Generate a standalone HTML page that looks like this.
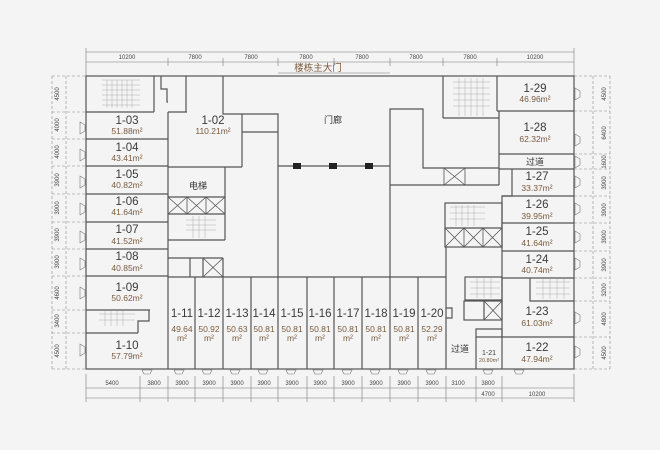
<!DOCTYPE html>
<html><head><meta charset="utf-8"><style>
html,body{margin:0;padding:0;background:#f4f4f4;}
svg{display:block;}
text{font-family:"Liberation Sans","Noto Sans CJK SC",sans-serif;}
.w{stroke:#555;stroke-width:1.2;fill:none;}
.t{stroke:#777;stroke-width:0.6;fill:none;}
.d{stroke:#888;stroke-width:0.6;fill:none;stroke-dasharray:3,2;}
.s{stroke:#aaa;stroke-width:0.5;fill:none;}
.id{fill:#3a3a3a;font-size:11.5px;text-anchor:middle;}
.ar{fill:#7a5a3c;font-size:8.5px;text-anchor:middle;}
.dm{fill:#444;font-size:6px;text-anchor:middle;}
.cn{fill:#333;font-size:9px;text-anchor:middle;}
</style></head><body>
<svg width="660" height="450" viewBox="0 0 660 450" xmlns="http://www.w3.org/2000/svg">
<rect width="660" height="450" fill="#f4f4f4"/>
<!-- top dims -->
<g class="t">
<line x1="86" y1="52" x2="574" y2="52"/><line x1="86" y1="62" x2="574" y2="62"/>
<line x1="86" y1="48" x2="86" y2="76"/><line x1="168" y1="58" x2="168" y2="66"/><line x1="223" y1="58" x2="223" y2="66"/>
<line x1="278" y1="58" x2="278" y2="66"/><line x1="334" y1="58" x2="334" y2="66"/><line x1="390" y1="58" x2="390" y2="66"/>
<line x1="443" y1="58" x2="443" y2="66"/><line x1="497" y1="58" x2="497" y2="66"/><line x1="574" y1="48" x2="574" y2="76"/>
</g>
<g class="dm"><text x="127" y="59">10200</text><text x="195" y="59">7800</text><text x="251" y="59">7800</text><text x="306" y="59">7800</text><text x="362" y="59">7800</text><text x="416" y="59">7800</text><text x="470" y="59">7800</text><text x="535" y="59">10200</text></g>
<text x="318" y="71" style="fill:#7a5a3c;font-size:9.5px;text-anchor:middle">楼栋主大门</text>
<line x1="278" y1="73" x2="390" y2="73" class="t"/>
<!-- left dims -->
<g class="d">
<line x1="52" y1="76" x2="52" y2="369"/><line x1="66" y1="76" x2="66" y2="369"/>
<line x1="52" y1="76" x2="86" y2="76"/><line x1="52" y1="112" x2="86" y2="112"/><line x1="52" y1="139" x2="86" y2="139"/><line x1="52" y1="166" x2="86" y2="166"/><line x1="52" y1="194" x2="86" y2="194"/><line x1="52" y1="222" x2="86" y2="222"/><line x1="52" y1="249" x2="86" y2="249"/><line x1="52" y1="276" x2="86" y2="276"/><line x1="52" y1="310" x2="86" y2="310"/><line x1="52" y1="333" x2="86" y2="333"/><line x1="52" y1="369" x2="86" y2="369"/>
</g>
<g class="dm">
<text transform="translate(59,94) rotate(-90)">4500</text><text transform="translate(59,125) rotate(-90)">4000</text><text transform="translate(59,152) rotate(-90)">4000</text><text transform="translate(59,180) rotate(-90)">3900</text><text transform="translate(59,208) rotate(-90)">3900</text><text transform="translate(59,235) rotate(-90)">3900</text><text transform="translate(59,262) rotate(-90)">3900</text><text transform="translate(59,293) rotate(-90)">4600</text><text transform="translate(59,321) rotate(-90)">3400</text><text transform="translate(59,351) rotate(-90)">4500</text>
</g>
<!-- right dims -->
<g class="d">
<line x1="593" y1="76" x2="593" y2="369"/><line x1="610" y1="76" x2="610" y2="369"/>
<line x1="574" y1="111" x2="610" y2="111"/><line x1="574" y1="154" x2="610" y2="154"/><line x1="574" y1="169" x2="610" y2="169"/><line x1="574" y1="196" x2="610" y2="196"/><line x1="574" y1="223" x2="610" y2="223"/><line x1="574" y1="251" x2="610" y2="251"/><line x1="574" y1="278" x2="610" y2="278"/><line x1="574" y1="301" x2="610" y2="301"/><line x1="574" y1="337" x2="610" y2="337"/><line x1="574" y1="369" x2="610" y2="369"/><line x1="574" y1="76" x2="610" y2="76"/>
</g>
<g class="dm">
<text transform="translate(606,94) rotate(-90)">4500</text><text transform="translate(606,133) rotate(-90)">6400</text><text transform="translate(606,162) rotate(-90)">1600</text><text transform="translate(606,183) rotate(-90)">3900</text><text transform="translate(606,210) rotate(-90)">3900</text><text transform="translate(606,237) rotate(-90)">3900</text><text transform="translate(606,265) rotate(-90)">3900</text><text transform="translate(606,290) rotate(-90)">3200</text><text transform="translate(606,319) rotate(-90)">4800</text><text transform="translate(606,353) rotate(-90)">4500</text>
</g>
<!-- bottom dims -->
<g class="t">
<line x1="86" y1="388" x2="574" y2="388"/><line x1="86" y1="398" x2="574" y2="398"/>
<line x1="86" y1="374" x2="86" y2="402"/><line x1="574" y1="374" x2="574" y2="402"/>
<line x1="140" y1="376" x2="140" y2="402"/><line x1="168" y1="376" x2="168" y2="402"/><line x1="195" y1="376" x2="195" y2="402"/><line x1="223" y1="376" x2="223" y2="402"/><line x1="251" y1="376" x2="251" y2="402"/><line x1="278" y1="376" x2="278" y2="402"/><line x1="307" y1="376" x2="307" y2="402"/><line x1="334" y1="376" x2="334" y2="402"/><line x1="362" y1="376" x2="362" y2="402"/><line x1="390" y1="376" x2="390" y2="402"/><line x1="418" y1="376" x2="418" y2="402"/><line x1="446" y1="376" x2="446" y2="402"/><line x1="476" y1="376" x2="476" y2="402"/><line x1="502" y1="376" x2="502" y2="402"/>
</g>
<g class="dm">
<text x="112" y="385">5400</text><text x="154" y="385">3800</text><text x="182" y="385">3900</text><text x="209" y="385">3900</text><text x="237" y="385">3900</text><text x="264" y="385">3900</text><text x="292" y="385">3900</text><text x="320" y="385">3900</text><text x="348" y="385">3900</text><text x="376" y="385">3900</text><text x="404" y="385">3900</text><text x="432" y="385">3900</text><text x="458" y="385">3100</text><text x="488" y="385">3800</text>
<text x="488" y="396">4700</text><text x="537" y="396">10200</text>
</g>
<!-- outer walls -->
<rect x="86" y="76" width="488" height="293" class="w"/>
<g class="w">
<!-- left rooms -->
<line x1="86" y1="112" x2="154" y2="112"/><line x1="154" y1="76" x2="154" y2="112"/>
<line x1="86" y1="139" x2="168" y2="139"/><line x1="86" y1="166" x2="168" y2="166"/><line x1="86" y1="194" x2="168" y2="194"/><line x1="86" y1="222" x2="168" y2="222"/><line x1="86" y1="249" x2="168" y2="249"/><line x1="86" y1="276" x2="168" y2="276"/>
<line x1="86" y1="310" x2="150" y2="310"/><polyline points="149,310 149,321 138,321 138,333"/><line x1="86" y1="333" x2="138" y2="333"/>
<line x1="168" y1="112" x2="168" y2="369"/>
<polyline points="161,76 161,89 167,89 167,102 168,102"/><line x1="168" y1="112" x2="187" y2="112"/><line x1="186" y1="76" x2="186" y2="112"/>
<!-- 1-02 -->
<line x1="168" y1="167" x2="242" y2="167"/><line x1="242" y1="114" x2="242" y2="167"/>
<polyline points="223,76 223,114 278,114 278,277"/><line x1="242" y1="132" x2="278" y2="132"/>
<line x1="225" y1="167" x2="225" y2="240"/><line x1="168" y1="197" x2="225" y2="197"/><line x1="168" y1="214" x2="225" y2="214"/><line x1="168" y1="240" x2="225" y2="240"/>
<line x1="168" y1="258" x2="223" y2="258"/><line x1="223" y1="258" x2="223" y2="277"/><line x1="190" y1="258" x2="190" y2="277"/><line x1="203" y1="258" x2="203" y2="277"/>
<!-- corridor -->
<line x1="278" y1="166" x2="390" y2="166"/>
<polyline points="390,277 390,109 423,109 423,168 499,168"/><line x1="390" y1="185" x2="499" y2="185"/>
<line x1="499" y1="111" x2="499" y2="185"/><line x1="443" y1="76" x2="443" y2="118"/><line x1="443" y1="118" x2="499" y2="118"/>
<line x1="497" y1="76" x2="497" y2="111"/><line x1="497" y1="111" x2="574" y2="111"/>
<line x1="499" y1="154" x2="574" y2="154"/><line x1="499" y1="169" x2="574" y2="169"/>
<polyline points="512,169 512,196 502,196 502,337"/><line x1="502" y1="196" x2="574" y2="196"/><line x1="502" y1="223" x2="574" y2="223"/><line x1="502" y1="251" x2="574" y2="251"/><line x1="502" y1="278" x2="574" y2="278"/>
<polyline points="530,278 530,301 574,301"/><line x1="476" y1="337" x2="574" y2="337"/>
<rect x="445" y="203" width="57" height="44"/><line x1="445" y1="228" x2="502" y2="228"/><line x1="446" y1="247" x2="446" y2="369"/>
<rect x="465" y="277" width="37" height="23"/><rect x="464" y="301" width="38" height="19"/><line x1="484" y1="301" x2="484" y2="320"/>
<polyline points="476,369 476,329 502,329 502,369"/>
<!-- bottom shops -->
<line x1="168" y1="277" x2="446" y2="277"/>
<line x1="195" y1="277" x2="195" y2="369"/><line x1="223" y1="277" x2="223" y2="369"/><line x1="251" y1="277" x2="251" y2="369"/><line x1="278" y1="277" x2="278" y2="369"/><line x1="307" y1="277" x2="307" y2="369"/><line x1="334" y1="277" x2="334" y2="369"/><line x1="362" y1="277" x2="362" y2="369"/><line x1="390" y1="277" x2="390" y2="369"/><line x1="418" y1="277" x2="418" y2="369"/>
<polyline points="446,308 452,308 452,318 446,318"/>
</g>
<!-- X boxes -->
<g class="t" style="stroke:#555;stroke-width:0.8">
<path d="M168,197L187,214M187,197L168,214M187,197L206,214M206,197L187,214M206,197L225,214M225,197L206,214M187,197V214M206,197V214"/>
<path d="M203,258L223,277M223,258L203,277"/>
<rect x="444" y="168" width="21" height="17"/><path d="M444,168L465,185M465,168L444,185"/>
<path d="M445,228L464,247M464,228L445,247M464,228L483,247M483,228L464,247M483,228L502,247M502,228L483,247M464,228V247M483,228V247"/>
<path d="M484,301L502,320M502,301L484,320"/>
</g>
<!-- stairs -->
<g class="s">
<path d="M102,80H140M102,85H140M102,90H140M102,95H140M102,100H140M102,105H140M107,80V108M112,80V108M117,80V108M122,80V108M127,80V108M132,80V108"/>
<path d="M186,220H216M186,225H216M186,230H216M193,216V238M199,216V238M205,216V238"/>
<path d="M453,82H490M453,88H490M453,94H490M453,100H490M453,106H490M459,78V116M465,78V116M471,78V116M477,78V116M483,78V116"/>
<path d="M450,207H485M450,213H485M450,219H485M456,205V226M462,205V226M468,205V226M474,205V226"/>
<path d="M470,282H500M470,288H500M470,294H500M477,278V298M484,278V298M491,278V298"/>
<path d="M536,282H570M536,288H570M536,294H570M543,279V299M550,279V299M557,279V299M564,279V299"/>
<path d="M99,314H135M99,320H135M105,311V326M111,311V326M117,311V326M123,311V326"/>
</g>
<!-- pillars -->
<rect x="293" y="163" width="8" height="6" fill="#222"/><rect x="329" y="163" width="8" height="6" fill="#222"/><rect x="365" y="163" width="8" height="6" fill="#222"/>
<!-- labels -->
<g>
<text class="id" x="127" y="124">1-03</text><text class="ar" x="127" y="134">51.88m²</text>
<text class="id" x="127" y="151">1-04</text><text class="ar" x="127" y="161">43.41m²</text>
<text class="id" x="127" y="178">1-05</text><text class="ar" x="127" y="188">40.82m²</text>
<text class="id" x="127" y="205">1-06</text><text class="ar" x="127" y="215">41.64m²</text>
<text class="id" x="127" y="233">1-07</text><text class="ar" x="127" y="244">41.52m²</text>
<text class="id" x="127" y="260">1-08</text><text class="ar" x="127" y="271">40.85m²</text>
<text class="id" x="127" y="291">1-09</text><text class="ar" x="127" y="301">50.62m²</text>
<text class="id" x="127" y="349">1-10</text><text class="ar" x="127" y="359">57.79m²</text>
<text class="id" x="213" y="124">1-02</text><text class="ar" x="213" y="134">110.21m²</text>
<text class="cn" x="198" y="189">电梯</text>
<text class="cn" x="333" y="123">门廊</text>
<text class="id" x="535" y="92">1-29</text><text class="ar" x="535" y="102">46.96m²</text>
<text class="id" x="535" y="131">1-28</text><text class="ar" x="535" y="142">62.32m²</text>
<text class="cn" x="535" y="165">过道</text>
<text class="id" x="537" y="180">1-27</text><text class="ar" x="537" y="191">33.37m²</text>
<text class="id" x="537" y="208">1-26</text><text class="ar" x="537" y="219">39.95m²</text>
<text class="id" x="537" y="235">1-25</text><text class="ar" x="537" y="246">41.64m²</text>
<text class="id" x="537" y="263">1-24</text><text class="ar" x="537" y="273">40.74m²</text>
<text class="id" x="537" y="315">1-23</text><text class="ar" x="537" y="326">61.03m²</text>
<text class="id" x="537" y="351">1-22</text><text class="ar" x="537" y="362">47.94m²</text>
<text class="cn" x="460" y="352">过道</text>
<text class="id" x="489" y="355" style="font-size:7px">1-21</text><text class="ar" x="489" y="362" style="font-size:5.5px">20.80m²</text>
</g>
<g>
<text class="id" x="182" y="317">1-11</text><text class="ar" x="182" y="332">49.64</text><text class="ar" x="182" y="341">m²</text>
<text class="id" x="209" y="317">1-12</text><text class="ar" x="209" y="332">50.92</text><text class="ar" x="209" y="341">m²</text>
<text class="id" x="237" y="317">1-13</text><text class="ar" x="237" y="332">50.63</text><text class="ar" x="237" y="341">m²</text>
<text class="id" x="264" y="317">1-14</text><text class="ar" x="264" y="332">50.81</text><text class="ar" x="264" y="341">m²</text>
<text class="id" x="292" y="317">1-15</text><text class="ar" x="292" y="332">50.81</text><text class="ar" x="292" y="341">m²</text>
<text class="id" x="320" y="317">1-16</text><text class="ar" x="320" y="332">50.81</text><text class="ar" x="320" y="341">m²</text>
<text class="id" x="348" y="317">1-17</text><text class="ar" x="348" y="332">50.81</text><text class="ar" x="348" y="341">m²</text>
<text class="id" x="376" y="317">1-18</text><text class="ar" x="376" y="332">50.81</text><text class="ar" x="376" y="341">m²</text>
<text class="id" x="404" y="317">1-19</text><text class="ar" x="404" y="332">50.81</text><text class="ar" x="404" y="341">m²</text>
<text class="id" x="432" y="317">1-20</text><text class="ar" x="432" y="332">52.29</text><text class="ar" x="432" y="341">m²</text>
</g>
<!-- door marks -->
<g class="t">
<path d="M80,122v12l5,-3v-6zM80,149v12l5,-3v-6zM80,176v12l5,-3v-6zM80,203v12l5,-3v-6zM80,231v12l5,-3v-6zM80,258v12l5,-3v-6zM80,287v12l5,-3v-6zM80,344v12l5,-3v-6z"/>
<path d="M575,88v12l5,-3v-6zM575,134v12l5,-3v-6zM575,156v12l5,-3v-6zM575,176v12l5,-3v-6zM575,203v12l5,-3v-6zM575,231v12l5,-3v-6zM575,258v12l5,-3v-6zM575,312v12l5,-3v-6zM575,346v12l5,-3v-6z"/>
<path d="M142,370h10l-2,4h-6zM174,370h10l-2,4h-6zM202,370h10l-2,4h-6zM230,370h10l-2,4h-6zM258,370h10l-2,4h-6zM286,370h10l-2,4h-6zM313,370h10l-2,4h-6zM342,370h10l-2,4h-6zM370,370h10l-2,4h-6zM398,370h10l-2,4h-6zM426,370h10l-2,4h-6zM483,370h10l-2,4h-6zM514,370h10l-2,4h-6z"/>
</g>
</svg>
</body></html>
